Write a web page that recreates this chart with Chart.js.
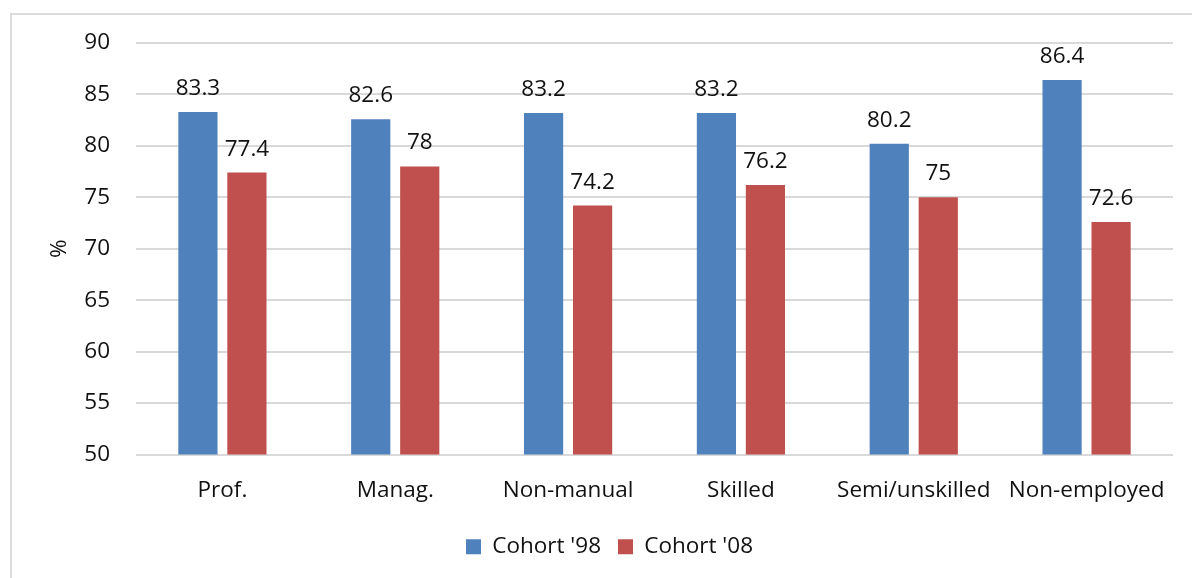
<!DOCTYPE html>
<html>
<head>
<meta charset="utf-8">
<script src="https://cdn.jsdelivr.net/npm/chart.js@4"></script>
<style>
  html, body { margin: 0; padding: 0; background: #fff; overflow: hidden; }
  #frame {
    position: absolute; left: 10px; top: 13px; width: 1200px; height: 600px;
    border: 2px solid #dcdcdc; box-sizing: border-box;
  }
  #wrap { position: absolute; left: 0; top: 0; width: 1192px; height: 578px; }
</style>
</head>
<body>
<div id="frame"></div>
<div id="wrap"><canvas id="chart"></canvas></div>
<script>
// Data
const categories = ['Prof.', 'Manag.', 'Non-manual', 'Skilled', 'Semi/unskilled', 'Non-employed'];
const cohort98 = [83.3, 82.6, 83.2, 83.2, 80.2, 86.4];
const cohort08 = [77.4, 78, 74.2, 76.2, 75, 72.6];
const yTicks = [50, 55, 60, 65, 70, 75, 80, 85, 90];

const FONT = { family: '"Open Sans", sans-serif', size: 22.5 };
const TEXT = '#111';

// draws the value above each bar
const valueLabels = {
  id: 'valueLabels',
  afterDatasetsDraw(chart) {
    const ctx = chart.ctx;
    ctx.save();
    ctx.font = FONT.size + 'px ' + FONT.family;
    ctx.fillStyle = TEXT;
    ctx.textAlign = 'center';
    ctx.textBaseline = 'alphabetic';
    chart.data.datasets.forEach((ds, i) => {
      chart.getDatasetMeta(i).data.forEach((bar, j) => {
        ctx.fillText(String(ds.data[j]), bar.x, bar.y - 17);
      });
    });
    ctx.restore();
  }
};

new Chart(document.getElementById('chart'), {
  type: 'bar',
  data: {
    labels: categories,
    datasets: [
      { label: "Cohort '98", data: cohort98, backgroundColor: '#4F81BD' },
      { label: "Cohort '08", data: cohort08, backgroundColor: '#C0504D' }
    ]
  },
  plugins: [valueLabels],
  options: {
    responsive: true,
    maintainAspectRatio: false,
    animation: false,
    categoryPercentage: 0.567,
    barPercentage: 0.8,
    layout: { padding: { left: 46, right: 19, top: 43, bottom: 10 } },
    plugins: {
      tooltip: { enabled: false },
      legend: {
        position: 'bottom',
        labels: {
          color: TEXT,
          font: FONT,
          boxWidth: 15,
          boxHeight: 15,
          padding: 17
        }
      }
    },
    scales: {
      x: {
        grid: { display: false },
        border: { display: false },
        ticks: { color: TEXT, font: FONT, maxRotation: 0, autoSkip: false, padding: 15 },
        afterFit(scale) { scale.height = 64; }
      },
      y: {
        min: 50,
        max: 90,
        afterBuildTicks(scale) { scale.ticks = yTicks.map(v => ({ value: v })); },
        grid: { color: '#d9d9d9', lineWidth: 2, drawTicks: false },
        border: { display: false },
        ticks: { color: TEXT, font: FONT, padding: 26 },
        title: { display: true, text: '%', color: TEXT, font: FONT, padding: 0 },
        afterFit(scale) { scale.width = 90; }
      }
    }
  }
});
</script>
</body>
</html>
